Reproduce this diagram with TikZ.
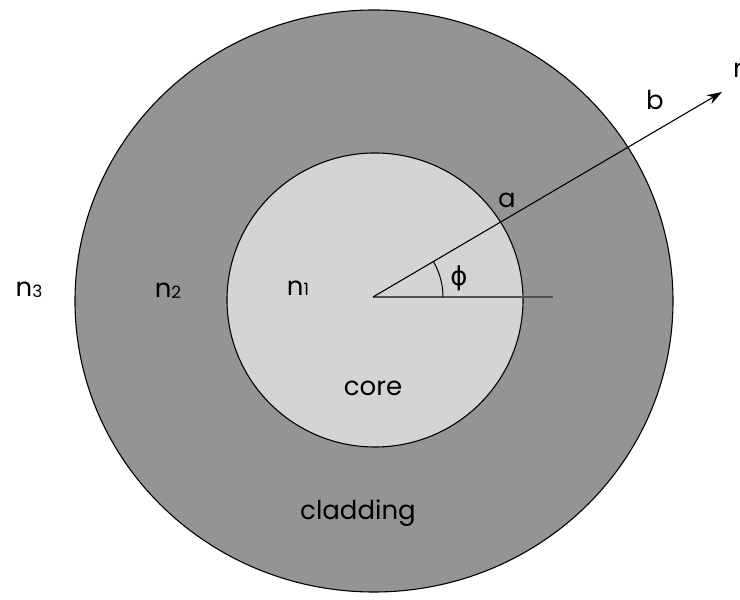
\documentclass[tikz,border=0pt]{standalone}
\usepackage{fontspec}
\setmainfont{Poppins}
\newfontfamily\grk{DejaVu Sans}
\usetikzlibrary{arrows.meta}
\definecolor{cladcol}{RGB}{148,148,148}
\definecolor{corecol}{RGB}{212,212,212}
\definecolor{hline}{RGB}{80,80,80}
\tikzset{
  lbl/.style={inner sep=0pt, font=\fontsize{26}{30}\selectfont},
  sub/.style={font=\fontsize{17}{20}\selectfont},
  edge/.style={draw=black, line width=1.1pt},
  ray/.style={draw=black, line width=1.1pt, -{Stealth[length=15pt,width=10pt]}}
}
\begin{document}
\begin{tikzpicture}[x=1pt,y=1pt]
\useasboundingbox (0,0) rectangle (740,600);
\clip (0,0) rectangle (740,600);
% cladding and core
\fill[cladcol] (374,299) ellipse[x radius=299, y radius=291];
\draw[edge] (374,299) ellipse[x radius=299, y radius=291];
\fill[corecol] (375,300) ellipse[x radius=148, y radius=147];
\draw[edge] (375,300) ellipse[x radius=148, y radius=147];
% geometry
\coordinate (O) at (373,303);
\coordinate (tip) at (722,508);
\coordinate (hend) at (553,303);
\draw[hline, line width=1.4pt] (O) -- (hend);
\draw[ray] (O) -- (tip);
\draw[line width=1pt] ([shift={(70,0)}]O) arc[start angle=0, end angle=30.4, radius=70];
% labels
\node[lbl] (n3) at (29,310) {n\raisebox{-0.5pt}{\fontsize{17}{20}\selectfont 3}};
\node[lbl] (n2) at (168,309) {n\raisebox{-0.5pt}{\fontsize{17}{20}\selectfont 2}};
\node[lbl] (n1) at (298,312) {n\raisebox{-0.5pt}{\fontsize{17}{20}\selectfont 1}};
\node[lbl] (core) at (373,212) {core};
\node[lbl] (clad) at (358,87) {cladding};
\node[lbl] (a) at (507,400) {a};
\node[lbl] (b) at (655,500) {b};
\node[lbl] (phi) at (459,322) {\grk ϕ};
\node[lbl, anchor=west] (r) at (733,530) {r};
\end{tikzpicture}
\end{document}
